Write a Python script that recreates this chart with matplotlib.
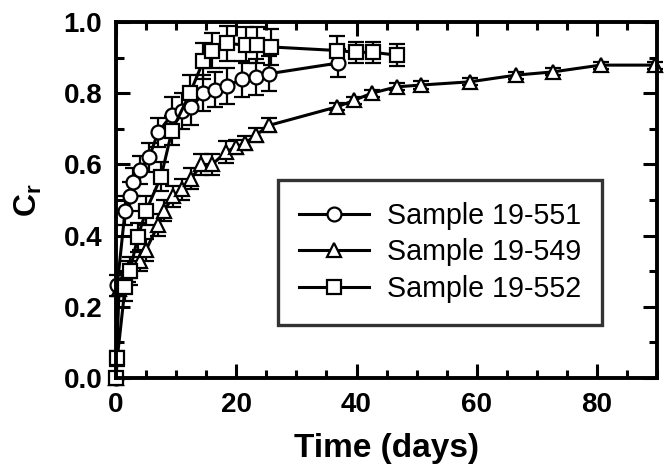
import matplotlib
matplotlib.use("Agg")
import matplotlib.pyplot as plt
from matplotlib.ticker import MultipleLocator, FormatStrFormatter
from matplotlib.lines import Line2D

plt.rcParams['font.family'] = ['Liberation Sans', 'DejaVu Sans']
plt.rcParams['mathtext.fontset'] = 'custom'
plt.rcParams['mathtext.rm'] = 'Liberation Sans:bold'
plt.rcParams['mathtext.bf'] = 'Liberation Sans:bold'
plt.rcParams['mathtext.it'] = 'Liberation Sans:bold'

# Sample 19-551 (circles)
t_551 = [0, 0.2, 1.5, 2.3, 2.8, 4, 5.5, 7, 9.3, 11, 12.5, 14.5, 16.4, 18.4, 21, 23.3, 25.5, 37]
c_551 = [0.0, 0.26, 0.47, 0.51, 0.55, 0.585, 0.62, 0.69, 0.74, 0.75, 0.76, 0.80, 0.81, 0.82, 0.84, 0.845, 0.855, 0.885]
e_551 = [0.0, 0.03, 0.04, 0.04, 0.04, 0.04, 0.04, 0.04, 0.05, 0.05, 0.05, 0.05, 0.05, 0.05, 0.05, 0.05, 0.05, 0.04]

# Sample 19-549 (triangles)
t_549 = [0, 0.5, 2, 4, 5, 7, 8, 9.5, 11, 12.5, 14.2, 16, 18.3, 20, 21.5, 23.3, 25.5, 36.8, 39.6, 42.5, 46.7, 50.7, 58.8, 66.6, 72.7, 80.6, 89.6]
c_549 = [0.0, 0.25, 0.30, 0.33, 0.36, 0.43, 0.47, 0.51, 0.53, 0.56, 0.60, 0.60, 0.635, 0.65, 0.66, 0.683, 0.71, 0.762, 0.78, 0.80, 0.818, 0.823, 0.832, 0.851, 0.86, 0.879, 0.879]
e_549 = [0.0, 0.02, 0.03, 0.03, 0.03, 0.03, 0.03, 0.03, 0.03, 0.03, 0.03, 0.03, 0.03, 0.02, 0.02, 0.02, 0.02, 0.01, 0.01, 0.01, 0.01, 0.01, 0.01, 0.01, 0.01, 0.01, 0.01]

# Sample 19-552 (squares)
t_552 = [0, 0.2, 1.5, 2.3, 3.6, 5, 7.5, 9.3, 12.3, 14.5, 16, 18.5, 21.7, 23.5, 25.8, 36.8, 39.9, 42.7, 46.7]
c_552 = [0.0, 0.055, 0.255, 0.30, 0.395, 0.47, 0.566, 0.695, 0.80, 0.89, 0.92, 0.94, 0.935, 0.935, 0.93, 0.92, 0.915, 0.915, 0.907]
e_552 = [0.0, 0.02, 0.04, 0.04, 0.04, 0.04, 0.04, 0.04, 0.05, 0.05, 0.05, 0.05, 0.05, 0.05, 0.05, 0.04, 0.03, 0.03, 0.03]

labels = ['Sample 19-551', 'Sample 19-549', 'Sample 19-552']
markers = ['o', '^', 's']

fig = plt.figure(figsize=(6.68, 4.69), dpi=100)
ax = fig.add_axes([0.1737, 0.194, 0.81, 0.759])

style = dict(color='black', mfc='white', mec='black', mew=1.6, ms=10,
             lw=2.2, capsize=6, elinewidth=1.6, capthick=1.6)
for t, c, e, m in [(t_551, c_551, e_551, 'o'), (t_549, c_549, e_549, '^'),
                   (t_552, c_552, e_552, 's')]:
    cont = ax.errorbar(t, c, yerr=e, marker=m, **style)
    for art in cont.get_children():
        art.set_clip_on(False)

ax.set_xlim(0, 90)
ax.set_ylim(0, 1.0)
ax.xaxis.set_major_locator(MultipleLocator(20))
ax.xaxis.set_minor_locator(MultipleLocator(5))
ax.yaxis.set_major_locator(MultipleLocator(0.2))
ax.yaxis.set_minor_locator(MultipleLocator(0.1))
ax.yaxis.set_major_formatter(FormatStrFormatter('%.1f'))
ax.tick_params(which='both', direction='in', top=True, right=True, width=2.2)
ax.tick_params(which='major', length=10, labelsize=20, pad=10)
ax.tick_params(which='minor', length=6)
for lbl in ax.get_xticklabels() + ax.get_yticklabels():
    lbl.set_fontweight('bold')
for s in ax.spines.values():
    s.set_linewidth(2.8)

ax.set_xlabel('Time (days)', fontsize=24, fontweight='bold', labelpad=11)
ax.set_ylabel(r'$\mathbf{C_r}$', fontsize=23, labelpad=14)

handles = [Line2D([], [], color='black', lw=2.2, marker=m, ms=10, mfc='white',
                  mec='black', mew=1.6) for m in markers]
leg = ax.legend(handles=handles, labels=labels,
                loc='upper left', bbox_to_anchor=(0.299, 0.555), fontsize=20.6,
                frameon=True, fancybox=False, handlelength=2.45, borderpad=0.75,
                labelspacing=0.3, handletextpad=0.6, borderaxespad=0)
leg.get_frame().set_edgecolor('black')
leg.get_frame().set_linewidth(2.4)

fig.savefig('out.png', dpi=100)
